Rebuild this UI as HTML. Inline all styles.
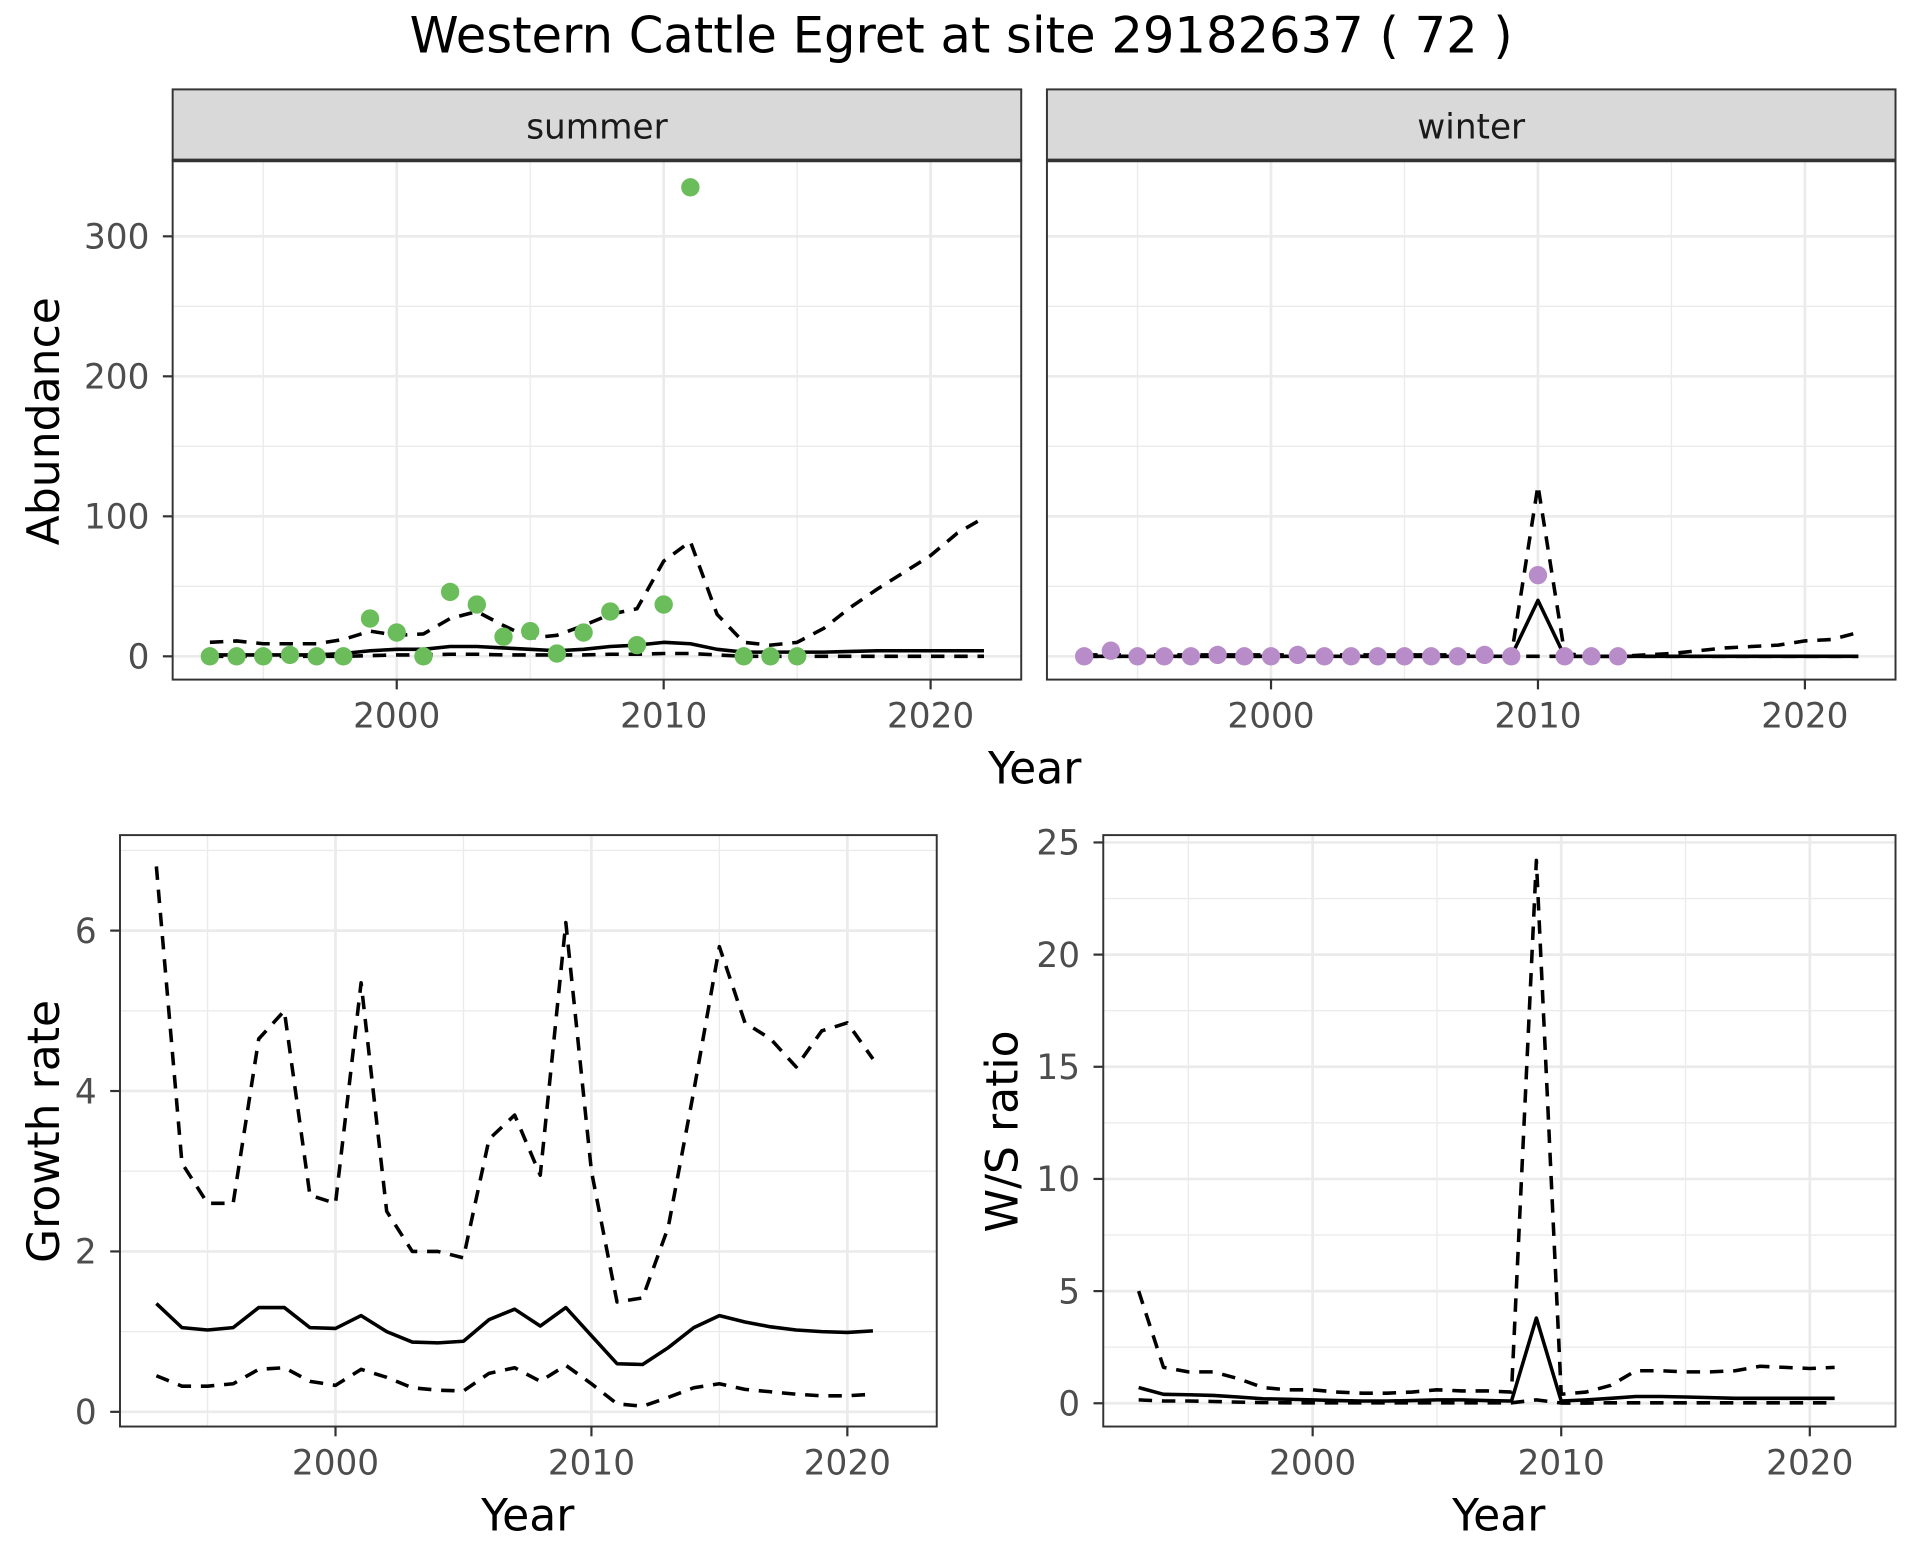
<!DOCTYPE html>
<html><head><meta charset="utf-8"><style>
html,body{margin:0;padding:0;background:#fff;}
svg{display:block;font-family:"DejaVu Sans","Liberation Sans",sans-serif;}
</style></head><body>
<svg id="chart" width="1920" height="1560" viewBox="0 0 1568 1274" xmlns="http://www.w3.org/2000/svg">
<rect x="0" y="0" width="1568" height="1274" fill="#fff"/>
<text x="785" y="43" font-size="40.5" text-anchor="middle" fill="#000">Western Cattle Egret at site 29182637 ( 72 )</text>
</svg>
<script>
// ---- data ----
const summerYears = [1993,1994,1995,1996,1997,1998,1999,2000,2001,2002,2003,2004,2005,2006,2007,2008,2009,2010,2011,2013,2014,2015];
const summerCounts = [0,0,0,1,0,0,27,17,0,46,37,14,18,2,17,32,8,37,335,0,0,0];
const fitYears = [1993,1994,1995,1996,1997,1998,1999,2000,2001,2002,2003,2004,2005,2006,2007,2008,2009,2010,2011,2012,2013,2014,2015,2016,2017,2018,2019,2020,2021,2022];
const summerMean = [1,1,1,1,1,2,4,5,5,7,7,6,5,4,5,7,8,10,9,5,3,3,3,3,3.5,4,4,4,4,4];
const summerUpper = [10,11,9,9,9,12,18,15,16,27,32,22,13,15,22,30,34,68,82,30,10,8,10,20,35,48,60,72,88,99];
const summerLower = [0,0,0,0,0,0,0.5,1,1,1.5,1.5,1,1,1,1,1.5,1.5,2,2,1,0,0,0,0,0,0,0,0,0,0];
const winterYears = [1993,1994,1995,1996,1997,1998,1999,2000,2001,2002,2003,2004,2005,2006,2007,2008,2009,2010,2011,2012,2013];
const winterCounts = [0,4,0,0,0,1,0,0,1,0,0,0,0,0,0,1,0,58,0,0,0];
const winterMean = [0,0,0,0,0,0,0,0,0,0,0,0,0,0,0,0,0,40,0,0,0,0,0,0,0,0,0,0,0,0];
const winterUpper = [1,1,1,1,1,1,1,1,1,1,1,1,1,1,1,1,0,122,2,0,0,1,2,4,6,7,8,11,12,17];
const winterLower = [0,0,0,0,0,0,0,0,0,0,0,0,0,0,0,0,0,0,0,0,0,0,0,0,0,0,0,0,0,0];
const rateYears = [1993,1994,1995,1996,1997,1998,1999,2000,2001,2002,2003,2004,2005,2006,2007,2008,2009,2010,2011,2012,2013,2014,2015,2016,2017,2018,2019,2020,2021];
const growthMean = [1.35,1.05,1.02,1.05,1.3,1.3,1.05,1.04,1.2,1.0,0.87,0.86,0.88,1.15,1.28,1.07,1.3,0.95,0.6,0.59,0.8,1.05,1.2,1.12,1.06,1.02,1.0,0.99,1.01];
const growthUpper = [6.8,3.1,2.6,2.6,4.65,5.0,2.7,2.6,5.35,2.5,2.0,2.0,1.92,3.4,3.7,2.95,6.1,3.0,1.37,1.42,2.3,4.0,5.8,4.85,4.65,4.3,4.75,4.85,4.4];
const growthLower = [0.45,0.32,0.32,0.35,0.53,0.55,0.38,0.33,0.53,0.43,0.3,0.27,0.26,0.48,0.55,0.38,0.58,0.35,0.1,0.07,0.18,0.3,0.35,0.28,0.25,0.22,0.2,0.2,0.22];
const ratioMean = [0.7,0.4,0.38,0.35,0.28,0.2,0.18,0.15,0.12,0.1,0.1,0.12,0.15,0.15,0.12,0.1,3.8,0.1,0.15,0.22,0.3,0.3,0.28,0.25,0.22,0.22,0.22,0.22,0.22];
const ratioUpper = [5,1.6,1.4,1.4,1.1,0.7,0.6,0.6,0.5,0.45,0.45,0.5,0.6,0.55,0.55,0.5,24.2,0.4,0.5,0.8,1.45,1.45,1.4,1.4,1.45,1.65,1.6,1.55,1.6];
const ratioLower = [0.15,0.1,0.1,0.08,0.05,0.03,0.02,0.02,0.02,0.02,0.02,0.02,0.02,0.02,0.02,0.02,0.15,0.01,0.01,0.02,0.02,0.02,0.02,0.02,0.02,0.02,0.02,0.02,0.02];
const xTicks = [2000,2010,2020];
const xMinor = [1995,2005,2015];
const abundTicks = [0,100,200,300];
const abundMinor = [50,150,250];
const growthTicks = [0,2,4,6];
const growthMinor = [1,3,5,7];
const ratioTicks = [0,5,10,15,20,25];
const ratioMinor = [2.5,7.5,12.5,17.5,22.5];

const NS = "http://www.w3.org/2000/svg";
const svg = document.getElementById('chart');
const TICK_FS = 28;
function mk(tag, attrs, parent, text){
  const e = document.createElementNS(NS, tag);
  for (const k in attrs) e.setAttribute(k, attrs[k]);
  if (text !== undefined) e.textContent = text;
  (parent || svg).appendChild(e);
  return e;
}
function scale(d0,d1,r0,r1){ return v => r0 + (v-d0)*(r1-r0)/(d1-d0); }

function panel(o){
  const g = mk('g', {});
  
  
  const X = o.x, Y = o.y;
  const cid = 'clip-' + o.name;
  const cp = mk('clipPath', {id: cid}, g);
  mk('rect', {x:o.l, y:o.t, width:o.r-o.l, height:o.b-o.t}, cp);
  o.yMinor.forEach(v => { const l = mk('line', {x1:o.l, x2:o.r, y1:Y(v), y2:Y(v), stroke:'#EBEBEB', 'stroke-width':1.1}, g);   });
  xMinor.forEach(v => { const l = mk('line', {x1:X(v), x2:X(v), y1:o.t, y2:o.b, stroke:'#EBEBEB', 'stroke-width':1.1}, g);   });
  o.yTicks.forEach(v => { const l = mk('line', {x1:o.l, x2:o.r, y1:Y(v), y2:Y(v), stroke:'#EBEBEB', 'stroke-width':2.2}, g);   });
  xTicks.forEach(v => { const l = mk('line', {x1:X(v), x2:X(v), y1:o.t, y2:o.b, stroke:'#EBEBEB', 'stroke-width':2.2}, g);   });
  const dg = mk('g', {'clip-path':'url(#'+cid+')'}, g);
  o.lines.forEach(ln => {
    const d = ln.xs.map((x,i)=>(i?'L':'M')+X(x).toFixed(2)+','+Y(ln.ys[i]).toFixed(2)).join('');
    const p = mk('path', {d:d, fill:'none', stroke:'#000', 'stroke-width':2.9, 'stroke-dasharray': ln.dash ? '11,8' : 'none', 'stroke-linejoin':'round'}, dg);
    
    
  });
  if (o.points) o.points.xs.forEach((x,i) => {
    const c = mk('circle', {cx:X(x), cy:Y(o.points.ys[i]), r:7.5, fill:o.points.color}, dg);
    
    
  });
  const bd = mk('rect', {x:o.l, y:o.t, width:o.r-o.l, height:o.b-o.t, fill:'none', stroke:'#333', 'stroke-width':1.6}, g);
  
  
  xTicks.forEach(v => {
    mk('line', {x1:X(v), x2:X(v), y1:o.b, y2:o.b+8, stroke:'#333', 'stroke-width':1.8}, g);
    const t = mk('text', {x:X(v), y:o.b+39, 'font-size':TICK_FS, 'text-anchor':'middle', fill:'#4D4D4D'}, g, String(v));
    
    
  });
  if (o.showY) o.yTicks.forEach(v => {
    mk('line', {x1:o.l-8, x2:o.l, y1:Y(v), y2:Y(v), stroke:'#333', 'stroke-width':1.8}, g);
    const t = mk('text', {x:o.l-19, y:Y(v)+10, 'font-size':TICK_FS, 'text-anchor':'end', fill:'#4D4D4D'}, g, String(v));
    
    
  });
  if (o.strip) {
    const s = mk('rect', {x:o.l, y:73, width:o.r-o.l, height:o.t-73, fill:'#D9D9D9', stroke:'#333', 'stroke-width':1.6}, g);
    
    
    mk('line', {x1:o.l, x2:o.r, y1:o.t, y2:o.t, stroke:'#333', 'stroke-width':3}, g);
    const st = mk('text', {x:(o.l+o.r)/2, y:113, 'font-size':TICK_FS, 'text-anchor':'middle', fill:'#1A1A1A'}, g, o.strip);
    
    
  }
}

panel({name:'summer-panel', l:141, r:834, t:131, b:555,
  x: scale(2000,2010,324,542), y: scale(0,300,536,193),
  yTicks: abundTicks, yMinor: abundMinor, showY:true, strip:'summer',
  lines:[{name:'summer-upper-line',xs:fitYears,ys:summerUpper,dash:true},{name:'summer-lower-line',xs:fitYears,ys:summerLower,dash:true},{name:'summer-mean-line',xs:fitYears,ys:summerMean,dash:false}],
  points:{xs:summerYears, ys:summerCounts, color:'#6ABD5A'}});
panel({name:'winter-panel', l:855, r:1548, t:131, b:555,
  x: scale(2000,2010,1038,1256), y: scale(0,300,536,193),
  yTicks: abundTicks, yMinor: abundMinor, showY:false, strip:'winter',
  lines:[{name:'winter-upper-line',xs:fitYears,ys:winterUpper,dash:true},{name:'winter-lower-line',xs:fitYears,ys:winterLower,dash:true},{name:'winter-mean-line',xs:fitYears,ys:winterMean,dash:false}],
  points:{xs:winterYears, ys:winterCounts, color:'#B88CC9'}});
panel({name:'growth-panel', l:98, r:765, t:682, b:1165,
  x: scale(2000,2010,274,483), y: scale(0,6,1153,760),
  yTicks: growthTicks, yMinor: growthMinor, showY:true,
  lines:[{name:'growth-upper-line',xs:rateYears,ys:growthUpper,dash:true},{name:'growth-lower-line',xs:rateYears,ys:growthLower,dash:true},{name:'growth-mean-line',xs:rateYears,ys:growthMean,dash:false}]});
panel({name:'ratio-panel', l:901, r:1548, t:682, b:1165,
  x: scale(2000,2010,1072,1275), y: scale(0,25,1146,688),
  yTicks: ratioTicks, yMinor: ratioMinor, showY:true,
  lines:[{name:'ratio-upper-line',xs:rateYears,ys:ratioUpper,dash:true},{name:'ratio-lower-line',xs:rateYears,ys:ratioLower,dash:true},{name:'ratio-mean-line',xs:rateYears,ys:ratioMean,dash:false}]});

function title(txt, x, y, rot, name){
  const t = mk('text', {x:x, y:y, 'font-size':36, 'text-anchor':'middle', fill:'#000', transform: rot ? 'rotate(-90 '+x+' '+y+')' : ''}, svg, txt);
  
  
}
title('Year', 845, 640, false, 'top-x-axis-title');
title('Abundance', 48, 344, true, 'abundance-axis-title');
title('Year', 431, 1250, false, 'growth-x-axis-title');
title('Growth rate', 48, 924, true, 'growth-axis-title');
title('Year', 1224, 1250, false, 'ratio-x-axis-title');
title('W/S ratio', 831, 924, true, 'ratio-axis-title');
</script>
</body></html>
